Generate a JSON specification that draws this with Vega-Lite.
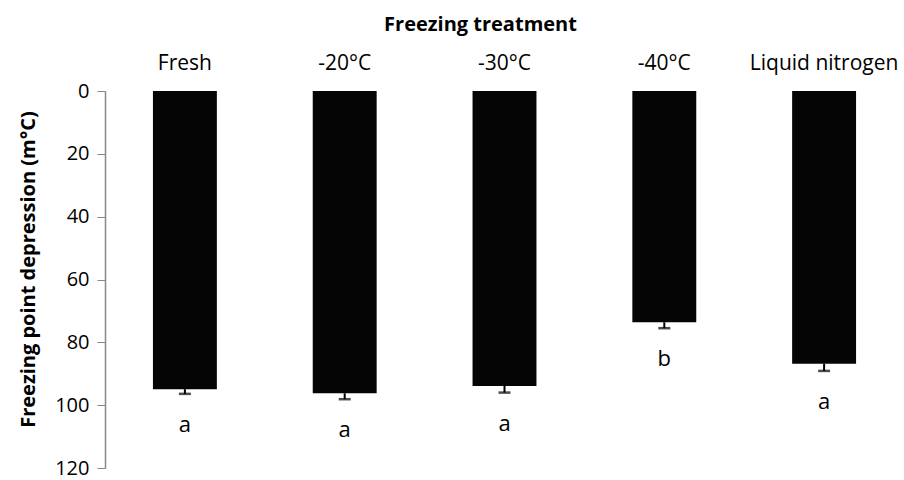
{
  "$schema": "https://vega.github.io/schema/vega-lite/v6.json",
  "width": 799,
  "height": 377,
  "autosize": "none",
  "padding": {"left": 105, "top": 91, "right": 0, "bottom": 12},
  "background": "white",
  "config": {
    "view": {"stroke": null},
    "font": "Open Sans"
  },
  "data": {
    "values": [
      {"treatment": "Fresh", "fpd": 94.9, "fpd_upper": 96.4, "group": "a"},
      {"treatment": "-20°C", "fpd": 96.2, "fpd_upper": 98.1, "group": "a"},
      {"treatment": "-30°C", "fpd": 93.9, "fpd_upper": 96.0, "group": "a"},
      {"treatment": "-40°C", "fpd": 73.6, "fpd_upper": 75.5, "group": "b"},
      {"treatment": "Liquid nitrogen", "fpd": 86.8, "fpd_upper": 89.1, "group": "a"}
    ]
  },
  "encoding": {
    "x": {
      "field": "treatment",
      "type": "nominal",
      "sort": null,
      "scale": {"paddingInner": 0.6, "paddingOuter": 0.3},
      "axis": {
        "orient": "top",
        "title": "Freezing treatment",
        "titleFont": "Open Sans",
        "titleFontSize": 20,
        "titleFontWeight": "bold",
        "titleColor": "#000",
        "titlePadding": 18,
        "titleX": 375,
        "labelFont": "Open Sans",
        "labelFontSize": 21,
        "labelColor": "#000",
        "labelAngle": 0,
        "labelPadding": 18,
        "ticks": false,
        "domain": false
      }
    }
  },
  "layer": [
    {
      "mark": {"type": "bar", "color": "#050505"},
      "encoding": {
        "y": {
          "field": "fpd",
          "type": "quantitative",
          "scale": {"domain": [0, 120], "reverse": true, "nice": false},
          "axis": {
            "title": "Freezing point depression (m°C)",
            "titleFont": "Open Sans",
            "titleFontSize": 20,
            "titleFontWeight": "bold",
            "titleColor": "#000",
            "titlePadding": 16,
            "titleY": 178,
            "values": [0, 20, 40, 60, 80, 100, 120],
            "labelFont": "Open Sans",
            "labelFontSize": 20,
            "labelColor": "#000",
            "labelPadding": 8,
            "tickSize": 8,
            "tickColor": "#888",
            "domainColor": "#888",
            "domainWidth": 1.5,
            "grid": false
          }
        }
      }
    },
    {
      "mark": {"type": "rule", "color": "#000", "strokeWidth": 2},
      "encoding": {
        "y": {"field": "fpd", "type": "quantitative"},
        "y2": {"field": "fpd_upper"}
      }
    },
    {
      "mark": {"type": "tick", "color": "#000", "thickness": 2.5, "size": 12, "orient": "horizontal"},
      "encoding": {
        "y": {"field": "fpd_upper", "type": "quantitative"}
      }
    },
    {
      "mark": {"type": "rule", "color": "#888", "strokeWidth": 1.5},
      "encoding": {
        "y": {"datum": 0, "type": "quantitative"}
      }
    },
    {
      "mark": {"type": "text", "font": "Open Sans", "fontSize": 22, "color": "#000", "baseline": "alphabetic", "dy": 38},
      "encoding": {
        "y": {"field": "fpd_upper", "type": "quantitative"},
        "text": {"field": "group"}
      }
    }
  ]
}
